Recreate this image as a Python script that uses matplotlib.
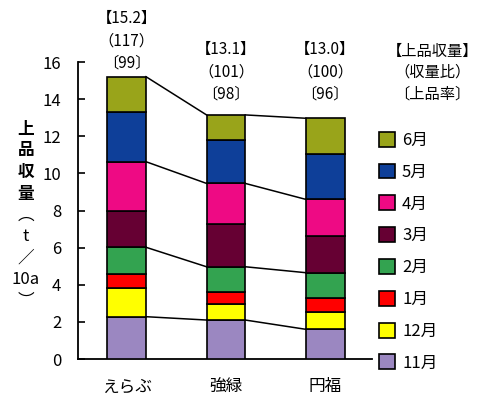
import matplotlib.pyplot as plt
import numpy as np

plt.rcParams['font.family'] = ['Noto Sans CJK JP', 'DejaVu Sans']

varieties = ['えらぶ', '強緑', '円福']
months = ['11月', '12月', '1月', '2月', '3月', '4月', '5月', '6月']
# monthly yield (t/10a), bottom (11月) to top (6月)
yields = {
    '11月': [2.28, 2.10, 1.60],
    '12月': [1.53, 0.85, 0.95],
    '1月': [0.77, 0.68, 0.75],
    '2月': [1.44, 1.34, 1.35],
    '3月': [1.97, 2.29, 1.98],
    '4月': [2.64, 2.20, 1.97],
    '5月': [2.69, 2.34, 2.45],
    '6月': [1.89, 1.35, 1.92],
}
total_label = ['【15.2】', '【13.1】', '【13.0】']
ratio_label = ['（117）', '（101）', '（100）']
rate_label = ['〔99〕', '〔98〕', '〔96〕']
colors = {
    '11月': '#9B87C1',
    '12月': '#FFFF00',
    '1月': '#FF0000',
    '2月': '#33A350',
    '3月': '#660033',
    '4月': '#EE0A84',
    '5月': '#0E3F99',
    '6月': '#99A41A',
}
# boundaries joined by lines between bars (top of these months)
link_months = ['11月', '2月', '4月', '6月']

fig = plt.figure(figsize=(4.78, 3.96), dpi=100)
ax = fig.add_axes([0.163, 0.0934, 0.615, 0.75])

x = np.arange(len(varieties))
w = 0.39
bottom = np.zeros(len(varieties))
tops = {}
handles = {}
for m in months:
    vals = np.array(yields[m])
    h = ax.bar(x, vals, w, bottom=bottom, color=colors[m], edgecolor='black',
               linewidth=1.2, label=m, zorder=3)
    handles[m] = h
    bottom = bottom + vals
    tops[m] = bottom.copy()

for m in link_months:
    for i in range(len(varieties) - 1):
        ax.plot([x[i] + w / 2, x[i + 1] - w / 2], [tops[m][i], tops[m][i + 1]],
                color='black', linewidth=1.1, zorder=2)

ax.set_xlim(-0.49, 2.47)
ax.set_ylim(0, 16)
ax.set_yticks(np.arange(0, 17, 2))
ax.set_xticks(x)
ax.set_xticklabels(varieties, fontsize=12)
ax.tick_params(axis='y', direction='in', length=5, width=1.2, pad=12, labelsize=12)
ax.tick_params(axis='x', length=0, pad=14)
for s in ['top', 'right']:
    ax.spines[s].set_visible(False)
for s in ['left', 'bottom']:
    ax.spines[s].set_linewidth(1.3)

# annotations above bars
label_y = [15.95, 14.28, 14.28]
for i in range(len(varieties)):
    for k, txt in enumerate([rate_label[i], ratio_label[i], total_label[i]]):
        ax.annotate(txt, xy=(x[i], label_y[i]), xytext=(0, 16 * k),
                    textcoords='offset points', ha='center', va='center',
                    fontsize=11, annotation_clip=False)

# header over the legend
for k, txt in enumerate(['〔上品率〕', '（収量比）', '【上品収量】']):
    fig.text(0.905, 1 - 94 / 396 + k * 21.5 / 396, txt, ha='center', va='center',
             fontsize=11)

# vertical y-axis label
ylab = ['上', '品', '収', '量', '︵', 't', '／', '10a', '︶']
for k, ch in enumerate(ylab):
    fig.text(26 / 478, 1 - (129 + 21.5 * k) / 396, ch, ha='center', va='center',
             fontsize=12, fontweight='bold' if k < 4 else 'normal')

leg_order = months[::-1]
fig.legend([handles[m] for m in leg_order], leg_order, loc='upper left',
           bbox_to_anchor=(372 / 478, 1 - 125 / 396), frameon=False, fontsize=12,
           handlelength=1.0, handleheight=1.0, handletextpad=0.4,
           labelspacing=0.88, borderaxespad=0)

fig.savefig('out.png', dpi=100)
